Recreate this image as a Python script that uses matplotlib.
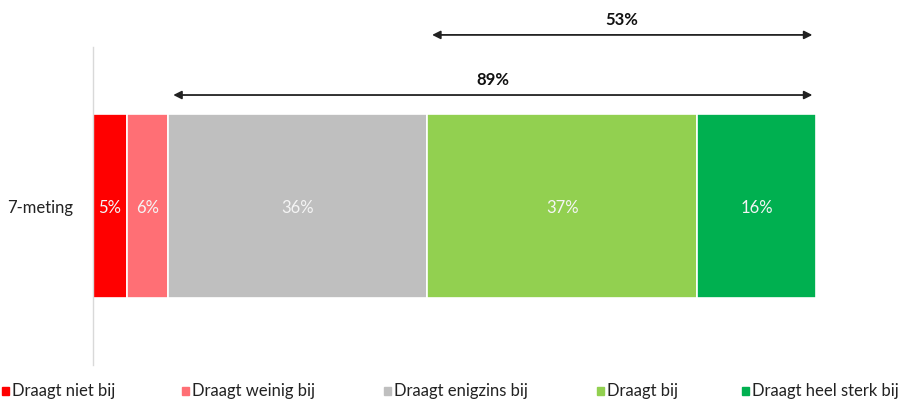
import matplotlib.pyplot as plt
from matplotlib.patches import Rectangle
import numpy as np

plt.rcParams['font.family'] = ['Lato', 'DejaVu Sans']

category = "7-meting"
labels = ["Draagt niet bij", "Draagt weinig bij", "Draagt enigzins bij", "Draagt bij", "Draagt heel sterk bij"]
values = [4.7, 5.7, 35.8, 37.4, 16.4]
colors = ["#ff0000", "#ff6f75", "#bfbfbf", "#92d050", "#00b050"]
span_labels = ["89%", "53%"]
span_start = [2, 3]  # index of first segment covered by each arrow

fig = plt.figure(figsize=(9.06, 4.03), dpi=100)
ax = fig.add_axes([93 / 906, 1 - 365 / 403, 723 / 906, 318 / 403])

left = 0
cum = []
for v, c in zip(values, colors):
    cum.append(left)
    ax.barh(0, v, left=left, height=0.579, color=c, edgecolor="white", linewidth=1.2)
    ax.text(left + v / 2, -0.005, f"{round(v)}%", ha="center", va="center",
            color="#f5f5f5", fontsize=12)
    left += v

ax.set_xlim(0, 100)
ax.set_ylim(-0.5, 0.5)
ax.set_yticks([0])
ax.set_yticklabels([category], fontsize=12, color="#222222")
ax.tick_params(axis="y", length=0, pad=14)
ax.set_xticks([])
for s in ["top", "right", "bottom"]:
    ax.spines[s].set_visible(False)
ax.spines["left"].set_color("#d9d9d9")
ax.spines["left"].set_linewidth(1)

arrow_y = [0.349, 0.538]
text_y = [0.396, 0.585]
for lab, st, ay, ty in zip(span_labels, span_start, arrow_y, text_y):
    x0 = cum[st] + 0.7
    x1 = 100 - 0.5
    ax.annotate("", xy=(x1, ay), xytext=(x0, ay),
                arrowprops=dict(arrowstyle="<|-|>", color="#222222", lw=1.3,
                                mutation_scale=12, shrinkA=0, shrinkB=0,
                                ),
                annotation_clip=False)
    ax.text((x0 + x1) / 2, ty, lab, ha="center", va="center", fontsize=12,
            fontweight="bold", color="#111111", clip_on=False)

# legend placed manually
leg_x = [2, 182, 384, 597, 742]
for lx, lab, c in zip(leg_x, labels, colors):
    fig.patches.append(Rectangle((lx / 906, 1 - 395 / 403), 7 / 906, 8 / 403,
                                 transform=fig.transFigure, color=c, figure=fig))
    fig.text((lx + 10) / 906, 1 - 391 / 403, lab, ha="left", va="center",
             fontsize=12, color="#222222")

fig.savefig("out.png", dpi=100)
